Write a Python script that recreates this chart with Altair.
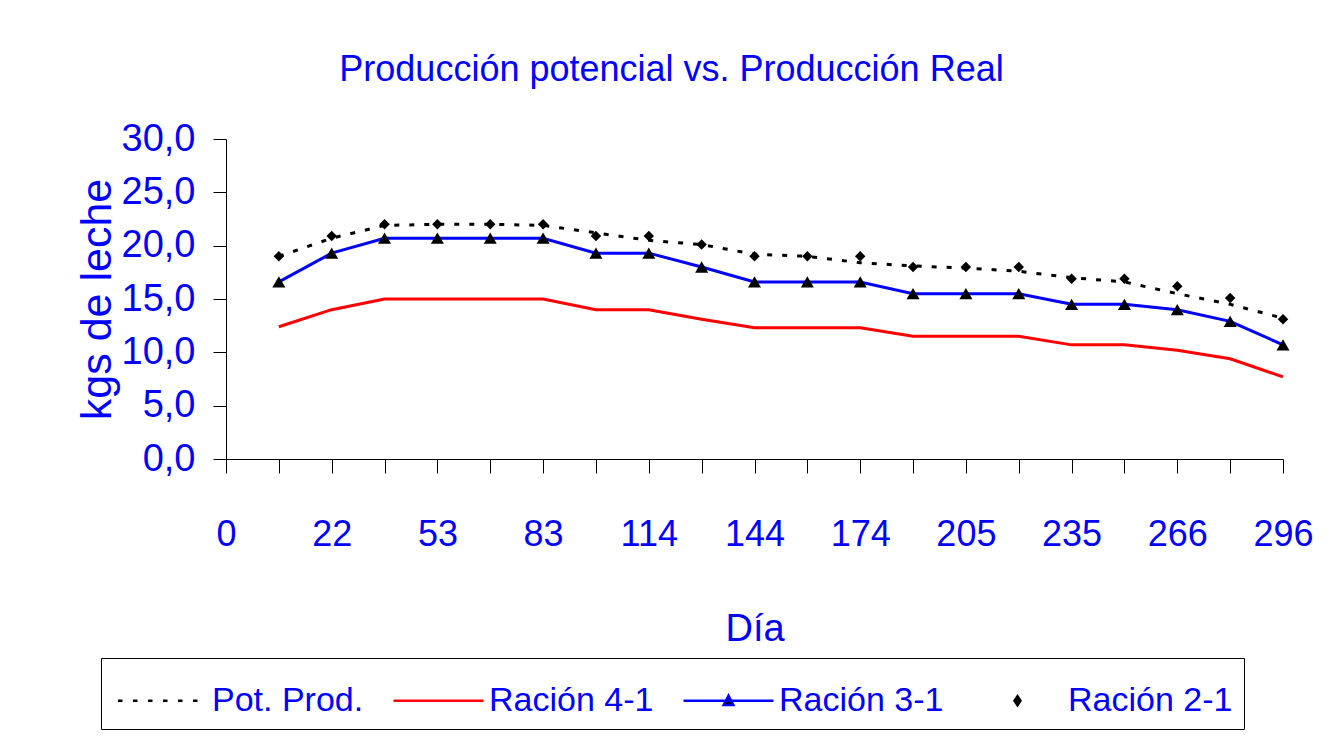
import altair as alt
import pandas as pd

FONT = "Liberation Sans, Arial, sans-serif"
BLUE = "#0000ff"

# x-axis tick labels (every other tick)
dia_labels = ["0", "22", "53", "83", "114", "144", "174", "205", "235", "266", "296"]
# sample index (one per tick after 0)
muestra = list(range(1, 21))

pot_prod = [19.0, 20.7, 21.9, 22.0, 22.0, 21.9, 21.2, 20.5, 20.1, 19.2,
            19.0, 18.4, 18.1, 17.9, 17.6, 17.0, 16.6, 15.5, 14.5, 13.2]
racion_4_1 = [12.4, 14.0, 15.0, 15.0, 15.0, 15.0, 14.0, 14.0, 13.1, 12.3,
              12.3, 12.3, 11.5, 11.5, 11.5, 10.7, 10.7, 10.2, 9.4, 7.7]
racion_3_1 = [16.6, 19.3, 20.7, 20.7, 20.7, 20.7, 19.3, 19.3, 18.0, 16.6,
              16.6, 16.6, 15.5, 15.5, 15.5, 14.5, 14.5, 14.0, 12.9, 10.7]
racion_2_1 = [19.0, 20.9, 22.0, 22.0, 22.0, 22.0, 20.9, 20.9, 20.1, 19.0,
              19.0, 19.0, 18.0, 18.0, 18.0, 16.9, 16.9, 16.2, 15.1, 13.1]

series = ["Pot. Prod.", "Ración 4-1", "Ración 3-1", "Ración 2-1"]
values = [pot_prod, racion_4_1, racion_3_1, racion_2_1]

rows = []
for name, vals in zip(series, values):
    for m, v in zip(muestra, vals):
        rows.append({"muestra": m, "serie": name, "valor": v})
df = pd.DataFrame(rows)

labels_js = "[" + ",".join("'" + s + "'" for s in dia_labels) + "]"

x_enc = alt.X(
    "muestra:Q",
    scale=alt.Scale(domain=[0, 20], nice=False, zero=False),
    axis=alt.Axis(
        values=list(range(0, 21)),
        labelExpr=f"datum.value % 2 == 0 ? {labels_js}[datum.value / 2] : ''",
        title="Día",
        grid=False,
        labelFlush=False,
        labelOverlap=False,
        tickSize=14,
        labelPadding=44,
        titlePadding=58,
        labelFont=FONT,
        labelFontSize=36,
        labelColor=BLUE,
        titleFont=FONT,
        titleFontSize=38,
        titleFontWeight="normal",
        titleColor=BLUE,
        domainColor="black",
        tickColor="black",
    ),
)
y_enc = alt.Y(
    "valor:Q",
    scale=alt.Scale(domain=[0, 30], nice=False, zero=True),
    axis=alt.Axis(
        values=[0, 5, 10, 15, 20, 25, 30],
        labelExpr="replace(format(datum.value, '.1f'), '.', ',')",
        title="kgs de leche",
        grid=False,
        labelFlush=False,
        tickSize=13,
        labelPadding=18,
        titlePadding=2,
        labelFont=FONT,
        labelFontSize=38,
        labelColor=BLUE,
        titleFont=FONT,
        titleFontSize=43,
        titleFontWeight="normal",
        titleColor=BLUE,
        domainColor="black",
        tickColor="black",
    ),
)

base = alt.Chart(df)

pot_line = base.transform_filter(alt.datum.serie == "Pot. Prod.").mark_line(
    color="black", strokeWidth=3, strokeDash=[5, 10]
).encode(x=x_enc, y=y_enc)

r4_line = base.transform_filter(alt.datum.serie == "Ración 4-1").mark_line(
    color="#ff0000", strokeWidth=3
).encode(x=x_enc, y=y_enc)

r3_line = base.transform_filter(alt.datum.serie == "Ración 3-1").mark_line(
    color=BLUE, strokeWidth=3
).encode(x=x_enc, y=y_enc)

r3_pts = base.transform_filter(alt.datum.serie == "Ración 3-1").mark_point(
    shape="triangle-up", filled=True, color="black", size=170, opacity=1
).encode(x=x_enc, y=y_enc)

r2_pts = base.transform_filter(alt.datum.serie == "Ración 2-1").mark_point(
    shape="diamond", filled=True, color="black", size=110, opacity=1
).encode(x=x_enc, y=y_enc)

dash = "".join(f"M{x0:.2f},0h0.15" for x0 in [-1.45, -0.95, -0.45, 0.05, 0.55, 1.05])
legend_shapes = [
    dash,
    "M-1.5,0H1.5",
    "M-1.5,0H1.5M-0.16,0.14L0,-0.17L0.16,0.14Z",
    "M0,-0.15L0.1,0L0,0.15L-0.1,0Z",
]
legend_fill = ["transparent", "transparent", "black", "black"]
legend_stroke = ["black", "#ff0000", BLUE, "black"]

leg = alt.Legend(
    title=None,
    orient="none",
    legendX=-125,
    legendY=519,
    direction="horizontal",
    strokeColor="black",
    fillColor="white",
    padding=11,
    symbolSize=3600,
    symbolStrokeWidth=2.5,
    symbolOffset=18,
    labelOffset=19,
    columnPadding=24,
    labelFont=FONT,
    labelFontSize=34,
    labelColor=BLUE,
    labelLimit=400,
)

legend_layer = base.transform_filter("false").mark_point(opacity=1).encode(
    x=x_enc,
    y=y_enc,
    shape=alt.Shape("serie:N", scale=alt.Scale(domain=series, range=legend_shapes), legend=leg),
    fill=alt.Fill("serie:N", scale=alt.Scale(domain=series, range=legend_fill), legend=leg),
    stroke=alt.Stroke("serie:N", scale=alt.Scale(domain=series, range=legend_stroke), legend=leg),
)

chart = alt.layer(pot_line, r4_line, r3_line, r3_pts, r2_pts, legend_layer).properties(
    width=1057,
    height=320,
    padding={"left": 218, "top": 131, "right": 40, "bottom": 272},
    autosize=alt.AutoSizeParams(type="none"),
    background="white",
    title=alt.TitleParams(
        "Producción potencial vs. Producción Real",
        font=FONT,
        fontSize=36,
        fontWeight="normal",
        color=BLUE,
        anchor="middle",
        frame="group",
        dx=-83,
        offset=3,
        baseline="alphabetic",
    ),
).configure_view(stroke=None)

chart.save("out.html", embed_options={"renderer": "svg", "actions": False})
